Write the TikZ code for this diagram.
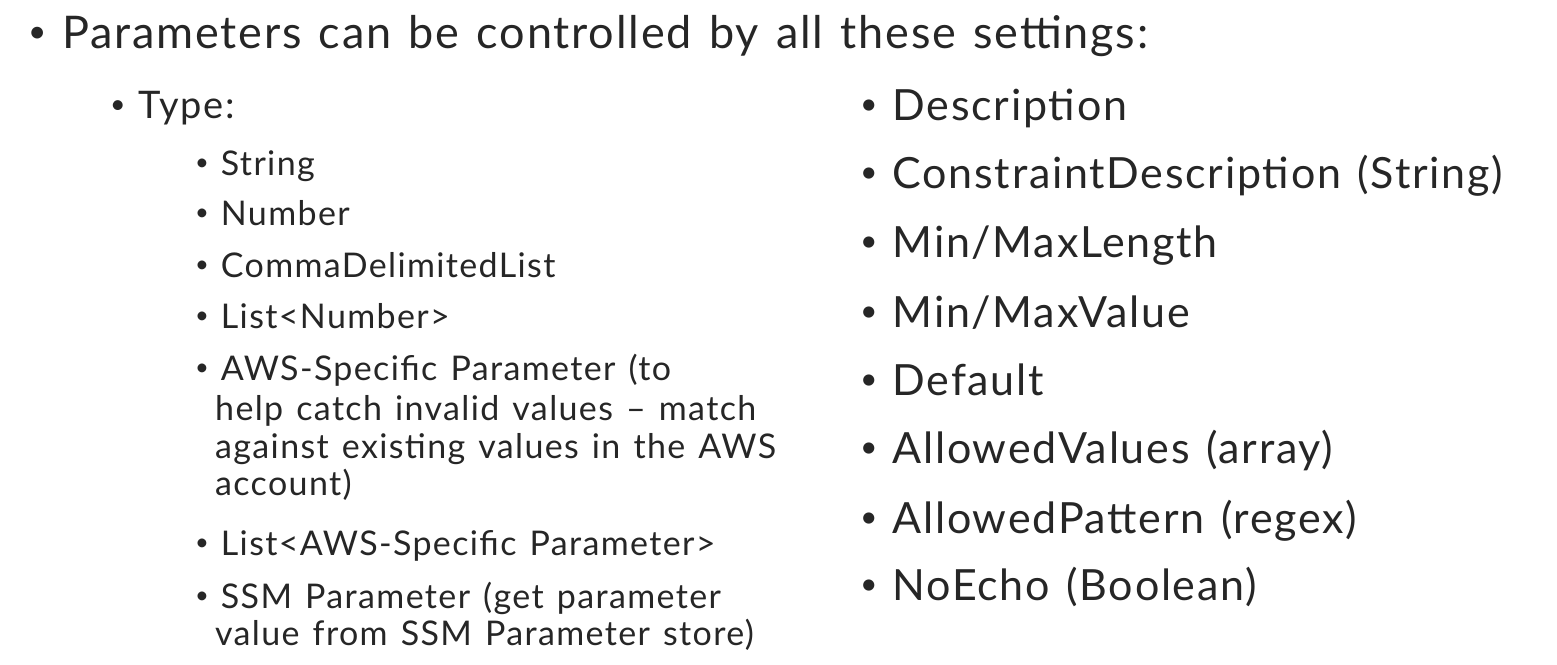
\documentclass[tikz,border=0pt]{standalone}
\usepackage{fontspec}
\setmainfont{Lato}[LetterSpace=4,WordSpace=1.3]
\newcommand{\bul}{\raisebox{0.12em}{\scalebox{0.7}{•}}\hspace{0.35em}}
\begin{document}
\begin{tikzpicture}[x=1pt,y=-1pt,
  t/.style={anchor=base west,inner sep=0pt,text=black!85},
  big/.style={t,font=\fontsize{43}{46}\selectfont},
  top/.style={t,font=\fontsize{45}{50}\selectfont},
  mid/.style={t,font=\fontsize{38}{40}\selectfont},
  sm/.style={t,font=\fontsize{34}{36}\selectfont}]
\useasboundingbox (0,0) rectangle (1557,664);
\node[top] (h) at (28,48) {\bul Parameters can be controlled by all these settings:};
\node[mid] (ty) at (110,118) {\bul Type:};
\foreach \y/\s [count=\i] in {175/String,225/Number,277/CommaDelimitedList,328/List<Number>}
  \node[sm] (s\i) at (195,\y) {\bul \s};
\node[sm] (aws) at (195,380) {\bul AWS-Specific Parameter (to};
\node[sm] (aws2) at (215,420) {help catch invalid values – match};
\node[sm] (aws3) at (215,458) {against existing values in the AWS};
\node[sm] (aws4) at (215,495) {account)};
\node[sm] (law) at (195,555) {\bul List<AWS-Specific Parameter>};
\node[sm] (ssm) at (195,608) {\bul SSM Parameter (get parameter};
\node[sm] (ssm2) at (215,645) {value from SSM Parameter store)};
\foreach \y/\s [count=\i] in {120/{Description},188/{ConstraintDescription (String)},257/{Min/MaxLength},327/{Min/MaxValue},395/{Default},463/{AllowedValues (array)},533/{AllowedPattern (regex)},600/{NoEcho (Boolean)}}
  \node[big] (r\i) at (860,\y) {\bul \s};
\end{tikzpicture}
\end{document}
